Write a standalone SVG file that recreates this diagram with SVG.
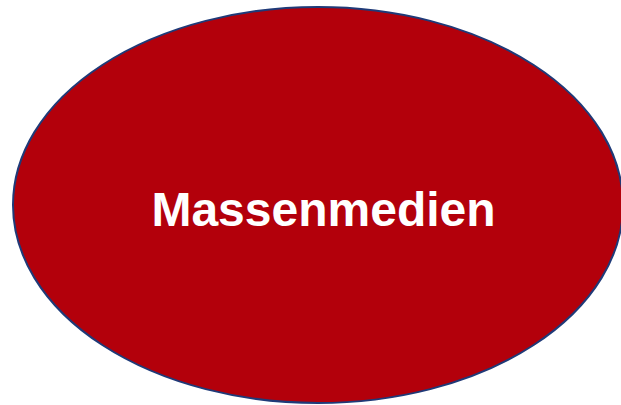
<svg xmlns="http://www.w3.org/2000/svg" width="621" height="405" viewBox="0 0 621 405">
<style>
.node{fill:#b3000b;stroke:#1f3a78;stroke-width:2}
.label{font-family:"Liberation Sans",Arial,sans-serif;font-weight:bold;font-size:48px;fill:#ffffff;text-anchor:middle}
</style>
<rect width="621" height="405" fill="#ffffff"/>
<g id="massenmedien">
<ellipse class="node" cx="318" cy="205" rx="305" ry="198"/>
<text class="label" x="323.5" y="226">Massenmedien</text>
</g>
<g id="connectors"></g>
</svg>
